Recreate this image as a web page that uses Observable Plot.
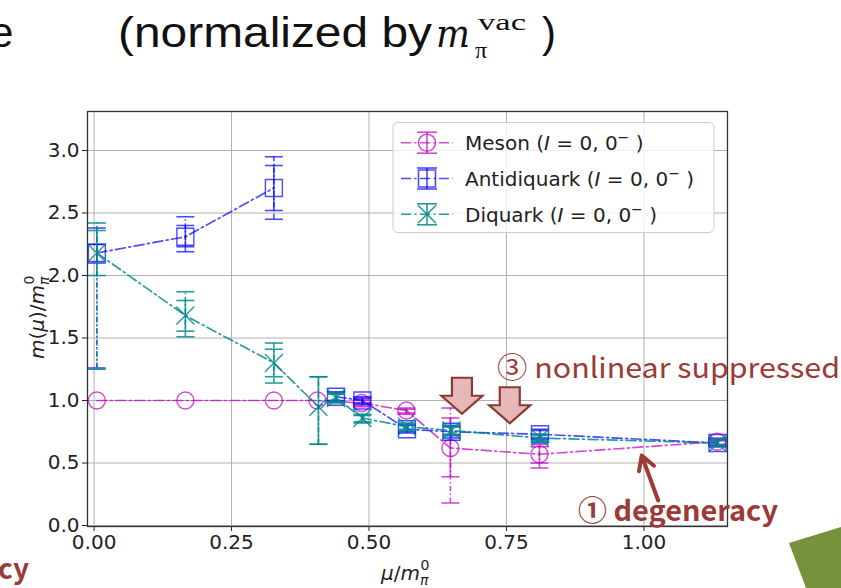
<!DOCTYPE html>
<html><head><meta charset="utf-8">
<script src="https://cdn.jsdelivr.net/npm/d3@7"></script>
<script src="https://cdn.jsdelivr.net/npm/@observablehq/plot@0.6"></script>
<style>body{margin:0;background:#fff;} #chart{width:841px;height:588px;overflow:hidden;}</style>
</head><body><div id="chart"></div>
<script>
// ---- tick values ----
const xTicks = [0, 0.25, 0.5, 0.75, 1.0];
const yTicks = [0, 0.5, 1.0, 1.5, 2.0, 2.5, 3.0];

// ---- Meson (I=0, 0-) ----
const mesonX   = [0.005, 0.166, 0.327, 0.406, 0.487, 0.568, 0.648, 0.810, 1.133];
const mesonY   = [1.00, 1.00, 1.00, 1.00, 0.98, 0.92, 0.62, 0.57, 0.67];
const mesonLo1 = [1.00, 1.00, 1.00, 1.00, 0.96, 0.90, 0.39, 0.50, 0.65];
const mesonHi1 = [1.00, 1.00, 1.00, 1.00, 1.00, 0.93, 0.86, 0.63, 0.69];
const mesonLo2 = [1.00, 1.00, 1.00, 1.00, 0.95, 0.89, 0.18, 0.46, 0.64];
const mesonHi2 = [1.00, 1.00, 1.00, 1.00, 1.01, 0.94, 0.94, 0.65, 0.70];

// ---- Antidiquark (I=0, 0-) ----  (line is broken between the 3rd and 4th point)
const antiX   = [0.005, 0.166, 0.327, 0.440, 0.488, 0.569, 0.650, 0.811, 1.134];
const antiY   = [2.18, 2.31, 2.70, 1.03, 1.00, 0.77, 0.75, 0.73, 0.66];
const antiLo1 = [2.10, 2.23, 2.52, 1.00, 0.98, 0.75, 0.72, 0.70, 0.64];
const antiHi1 = [2.25, 2.40, 2.88, 1.06, 1.02, 0.80, 0.79, 0.76, 0.68];
const antiLo2 = [1.26, 2.19, 2.45, 0.99, 0.97, 0.74, 0.70, 0.69, 0.63];
const antiHi2 = [2.38, 2.47, 2.95, 1.07, 1.03, 0.81, 0.80, 0.77, 0.69];
const antiSeg = [0, 0, 0, 1, 1, 1, 1, 1, 1];

// ---- Diquark (I=0, 0-) ----
const diX   = [0.005, 0.166, 0.327, 0.408, 0.440, 0.488, 0.569, 0.650, 0.811, 1.134];
const diY   = [2.18, 1.68, 1.30, 0.95, 1.02, 0.86, 0.79, 0.76, 0.70, 0.66];
const diLo1 = [2.00, 1.555, 1.19, 0.65, 0.99, 0.83, 0.77, 0.73, 0.68, 0.64];
const diHi1 = [2.36, 1.80, 1.41, 1.19, 1.05, 0.88, 0.81, 0.79, 0.72, 0.68];
const diLo2 = [1.25, 1.51, 1.14, 0.65, 0.98, 0.82, 0.76, 0.72, 0.67, 0.63];
const diHi2 = [2.42, 1.87, 1.46, 1.19, 1.06, 0.89, 0.82, 0.80, 0.73, 0.69];

// ---- legend labels ----
const legendNames = ["Meson", "Antidiquark", "Diquark"];

// ---- annotations (data coordinates) ----
const blockArrowX = [0.669, 0.756];
const blockArrowY = [0.894, 0.818];
const pointerFrom = [1.026, 0.20];
const pointerTo   = [0.996, 0.56];

function table(xs, ys, lo1, hi1, lo2, hi2, seg) {
  return xs.map((x, i) => ({x, y: ys[i], lo1: lo1[i], hi1: hi1[i], lo2: lo2[i], hi2: hi2[i], seg: seg ? seg[i] : 0}));
}
const meson = table(mesonX, mesonY, mesonLo1, mesonHi1, mesonLo2, mesonHi2);
const anti  = table(antiX, antiY, antiLo1, antiHi1, antiLo2, antiHi2, antiSeg);
const di    = table(diX, diY, diLo1, diHi1, diLo2, diHi2);
const blockArrows = blockArrowX.map((x, i) => ({x, y: blockArrowY[i]}));

const sym = f => ({draw(ctx) { f(ctx); }});
const circleSym = sym(c => { c.moveTo(8.5, 0); c.arc(0, 0, 8.5, 0, 2 * Math.PI); });
const squareSym = sym(c => { c.rect(-8.5, -8.5, 17, 17); });
const crossSym  = sym(c => { c.moveTo(-9, -9); c.lineTo(9, 9); c.moveTo(-9, 9); c.lineTo(9, -9); });
const capSym    = sym(c => { c.moveTo(-9, 0); c.lineTo(9, 0); });
const blockSym  = sym(c => {
  c.moveTo(0, 0); c.lineTo(-20.5, -18); c.lineTo(-10, -18); c.lineTo(-10, -36);
  c.lineTo(10, -36); c.lineTo(10, -18); c.lineTo(20.5, -18); c.closePath();
});

const DASH = "10,3.5,2,3.5";
const ERRDASH = "5,2.5,1.5,2.5";

function seriesMarks(data, color, op, marker) {
  return [
    Plot.line(data, {x: "x", y: "y", z: "seg", stroke: color, strokeOpacity: op, strokeWidth: 1.7, strokeDasharray: DASH}),
    Plot.ruleX(data, {x: "x", y1: "lo2", y2: "hi2", stroke: color, strokeOpacity: op, strokeWidth: 1.6, strokeDasharray: ERRDASH}),
    Plot.ruleX(data, {x: "x", y1: "lo1", y2: "hi1", stroke: color, strokeOpacity: op, strokeWidth: 1.6}),
    ...["lo1", "hi1", "lo2", "hi2"].map(k =>
      Plot.dot(data.filter(d => d[k] !== d.y), {x: "x", y: k, symbol: capSym, stroke: color, strokeOpacity: op, strokeWidth: 1.6, fill: "none"})),
    Plot.dot(data, {x: "x", y: "y", symbol: marker, stroke: color, strokeOpacity: op, strokeWidth: 1.4, fill: "none"})
  ];
}

const MAG = "#bf00bf", BLUE = "#0000ff", TEAL = "#008b8b";
const RED = "#9c3a38";

const plot = Plot.plot({
  width: 841, height: 588,
  marginLeft: 87, marginRight: 114, marginTop: 111, marginBottom: 62,
  x: {domain: [-0.012, 1.152]},
  y: {domain: [-0.008, 3.312]},
  style: {fontFamily: "DejaVu Sans", fontSize: "20px", color: "#222", background: "white", overflow: "visible"},
  marks: [
    Plot.gridX(xTicks, {stroke: "#b0b0b0", strokeOpacity: 1, strokeWidth: 1}),
    Plot.gridY(yTicks, {stroke: "#b0b0b0", strokeOpacity: 1, strokeWidth: 1}),
    Plot.axisX({ticks: xTicks, tickFormat: d3.format(".2f"), tickSize: 5, tickPadding: 3, label: null, fontSize: 20}),
    Plot.axisY({ticks: yTicks, tickFormat: d3.format(".1f"), tickSize: 5, tickPadding: 3, label: null, fontSize: 20}),
    ...seriesMarks(meson, MAG, 0.7, circleSym),
    ...seriesMarks(anti, BLUE, 0.7, squareSym),
    ...seriesMarks(di, TEAL, 0.85, crossSym),
    Plot.frame({stroke: "#333", strokeWidth: 1.3}),
    Plot.dot(blockArrows, {x: "x", y: "y", symbol: blockSym, fill: "#e6b8b7", stroke: "#8b3a33", strokeWidth: 2.2}),
    Plot.arrow([0], {x1: () => pointerFrom[0], y1: () => pointerFrom[1], x2: () => pointerTo[0], y2: () => pointerTo[1],
      stroke: RED, strokeWidth: 4, headLength: 16})
  ]
});
document.getElementById("chart").appendChild(plot);

const svg = d3.select(plot);
const g = svg.append("g").attr("text-anchor", "start");

// axis labels (mathtext-like)
const xl = g.append("text").attr("x", 381).attr("y", 580).attr("font-family", "DejaVu Sans").attr("font-size", 20).attr("fill", "#222");
xl.append("tspan").attr("font-style", "italic").text("μ");
xl.append("tspan").text("/");
xl.append("tspan").attr("font-style", "italic").text("m");
xl.append("tspan").attr("font-style", "italic").attr("font-size", 14).attr("dy", 5).text("π");
xl.append("tspan").attr("font-size", 14).attr("dx", -8).attr("dy", -15).text("0");

const yl = g.append("text").attr("transform", "translate(44,359) rotate(-90)").attr("font-family", "DejaVu Sans").attr("font-size", 20).attr("fill", "#222");
yl.append("tspan").attr("font-style", "italic").text("m");
yl.append("tspan").text("(");
yl.append("tspan").attr("font-style", "italic").text("μ");
yl.append("tspan").text(")/");
yl.append("tspan").attr("font-style", "italic").text("m");
yl.append("tspan").attr("font-style", "italic").attr("font-size", 14).attr("dy", 5).text("π");
yl.append("tspan").attr("font-size", 14).attr("dx", -8).attr("dy", -15).text("0");

// legend
const lg = g.append("g");
lg.append("rect").attr("x", 393).attr("y", 122.5).attr("width", 321).attr("height", 110).attr("rx", 5)
  .attr("fill", "white").attr("fill-opacity", 0.8).attr("stroke", "#cccccc");
const legColors = [[MAG, 0.7, circleSym], [BLUE, 0.7, squareSym], [TEAL, 0.85, crossSym]];
const rowsY = [142.7, 178.5, 214.3];
legendNames.forEach((name, i) => {
  const [c, op, s] = legColors[i];
  const cy = rowsY[i], cx = 427;
  const h = lg.append("g").attr("stroke", c).attr("stroke-opacity", op).attr("fill", "none").attr("stroke-width", 1.6);
  h.append("line").attr("x1", 401).attr("x2", 453).attr("y1", cy).attr("y2", cy).attr("stroke-dasharray", DASH);
  h.append("line").attr("x1", cx).attr("x2", cx).attr("y1", cy - 10.5).attr("y2", cy + 10.5);
  [cy - 10.5, cy + 10.5].forEach(yy => h.append("line").attr("x1", cx - 10).attr("x2", cx + 10).attr("y1", yy).attr("y2", yy));
  const p = d3.path(); s.draw(p);
  h.append("path").attr("d", p.toString()).attr("transform", `translate(${cx},${cy})`);
  const t = lg.append("text").attr("x", 465).attr("y", cy + 7.5).attr("font-family", "DejaVu Sans").attr("font-size", 20).attr("fill", "#222");
  t.append("tspan").text(name + " (");
  t.append("tspan").attr("font-style", "italic").text("I");
  t.append("tspan").text(" = 0, 0");
  t.append("tspan").attr("font-size", 14).attr("dy", -8).text("−");
  t.append("tspan").attr("dy", 8).text(" )");
});

// slide title
g.append("text").attr("x", -10).attr("y", 47).attr("font-family", "Liberation Sans, Arial").attr("font-size", 42).attr("fill", "#111").text("e");
g.append("text").attr("x", 118).attr("y", 47).attr("font-family", "Liberation Sans, Arial").attr("font-size", 42).attr("fill", "#111")
  .attr("textLength", 314).attr("lengthAdjust", "spacingAndGlyphs").text("(normalized by");
g.append("text").attr("x", 436).attr("y", 47).attr("font-family", "DejaVu Serif").attr("font-style", "italic").attr("font-size", 40).attr("fill", "#111")
  .attr("textLength", 34).attr("lengthAdjust", "spacingAndGlyphs").text("m");
g.append("text").attr("x", 478).attr("y", 30).attr("font-family", "Liberation Serif").attr("font-size", 24).attr("fill", "#111")
  .attr("textLength", 48).attr("lengthAdjust", "spacingAndGlyphs").text("vac");
g.append("text").attr("x", 475).attr("y", 58).attr("font-family", "Liberation Serif").attr("font-size", 24).attr("fill", "#111").text("π");
g.append("text").attr("x", 542).attr("y", 47).attr("font-family", "Liberation Sans, Arial").attr("font-size", 42).attr("fill", "#111").text(")");

// slide annotations
g.append("text").attr("x", 497).attr("y", 378).attr("font-family", "Noto Sans CJK JP").attr("font-size", 28).attr("fill", RED)
  .attr("textLength", 343).attr("lengthAdjust", "spacingAndGlyphs").text("③ nonlinear suppressed");
g.append("text").attr("x", 578).attr("y", 521).attr("font-family", "Noto Sans CJK JP").attr("font-weight", "bold").attr("font-size", 28).attr("fill", RED)
  .attr("textLength", 200).attr("lengthAdjust", "spacingAndGlyphs").text("① degeneracy");
g.append("text").attr("x", 29).attr("y", 579).attr("text-anchor", "end").attr("font-family", "Noto Sans CJK JP").attr("font-weight", "bold").attr("font-size", 28).attr("fill", RED).text("cy");
g.append("polygon").attr("points", "789,543 841,527 841,588 806,588").attr("fill", "#76923c");
</script></body></html>
